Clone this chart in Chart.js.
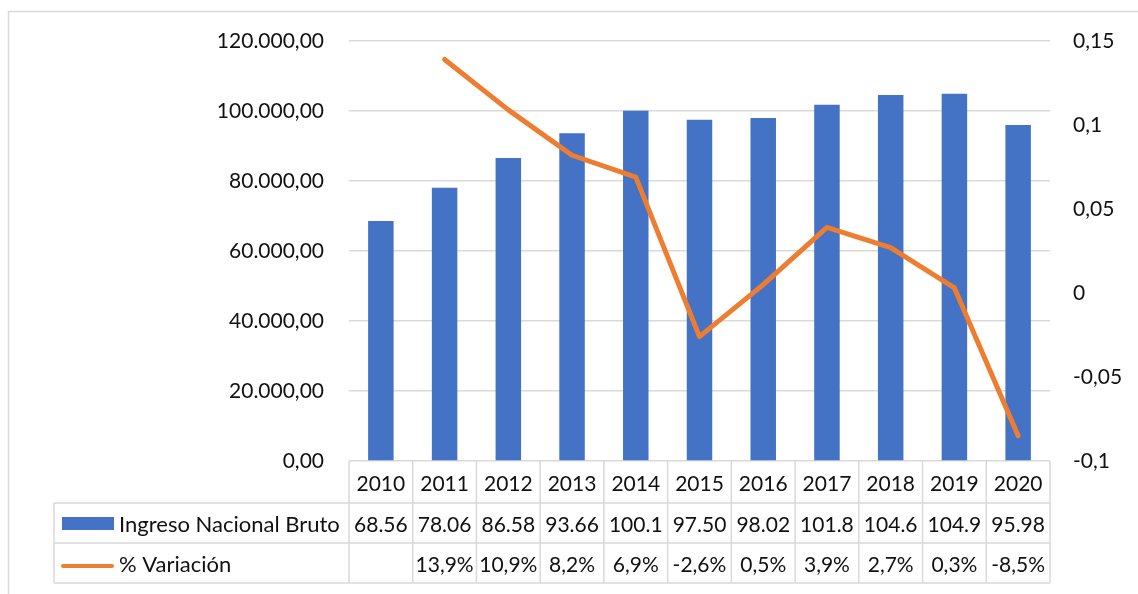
<!DOCTYPE html>
<html>
<head>
<meta charset="utf-8">
<script src="https://cdn.jsdelivr.net/npm/chart.js@4"></script>
<style>
  body { margin: 0; background: #fff; }
  #box { width: 1138px; height: 594px; }
</style>
</head>
<body>
<div id="box"><canvas id="Graf" width="1138" height="594"></canvas></div>
<script>
var anios = ["2010", "2011", "2012", "2013", "2014", "2015", "2016", "2017", "2018", "2019", "2020"];
var ingreso = [68560, 78060, 86580, 93660, 100100, 97500, 98020, 101800, 104600, 104900, 95980];
var variacion = [null, 0.139, 0.109, 0.082, 0.069, -0.026, 0.005, 0.039, 0.027, 0.003, -0.085];

var fuente = "Lato";
var gris = "#d9d9d9";
var texto = "#111";

function miles(v) {
    return String(Math.round(v)).replace(/\B(?=(\d{3})+(?!\d))/g, ".");
}

function pct(v) {
    return (v * 100).toFixed(1).replace(".", ",") + "%";
}

// marco exterior
var marco = {
    id: "marco",
    beforeDraw: function (chart) {
        var ctx = chart.ctx;
        ctx.save();
        ctx.fillStyle = "#fff";
        ctx.fillRect(0, 0, chart.width, chart.height);
        ctx.strokeStyle = gris;
        ctx.lineWidth = 1.5;
        ctx.strokeRect(8.5, 11.5, 1300, 800);
        ctx.restore();
    }
};

// tabla de datos bajo el eje x
var tabla = {
    id: "tabla",
    afterDraw: function (chart) {
        var ctx = chart.ctx;
        var a = chart.chartArea;
        var x = chart.scales.x;
        var n = chart.data.labels.length;
        var paso = (a.right - a.left) / n;
        var r0 = a.bottom, r1 = a.bottom + 42, r2 = r1 + 40, r3 = r2 + 40;
        var izq = 54;

        ctx.save();
        ctx.strokeStyle = gris;
        ctx.lineWidth = 1.5;
        ctx.beginPath();
        for (var i = 0; i <= n; i++) {
            var px = a.left + i * paso;
            ctx.moveTo(px, r0);
            ctx.lineTo(px, r3);
        }
        ctx.moveTo(izq, r1); ctx.lineTo(izq, r3);
        [r1, r2, r3].forEach(function (r) {
            ctx.moveTo(izq, r); ctx.lineTo(a.right, r);
        });
        ctx.stroke();

        var ds = chart.data.datasets;
        // claves de leyenda
        ctx.fillStyle = ds[0].backgroundColor;
        ctx.fillRect(62, r1 + 14, 52, 13);
        ctx.strokeStyle = ds[1].borderColor;
        ctx.lineWidth = 4;
        ctx.lineCap = "round";
        ctx.beginPath();
        ctx.moveTo(63, (r2 + r3) / 2 + 3);
        ctx.lineTo(112, (r2 + r3) / 2 + 3);
        ctx.stroke();

        ctx.fillStyle = texto;
        ctx.textBaseline = "middle";
        ctx.textAlign = "left";
        ctx.font = "22px " + fuente;
        ctx.fillText(ds[0].label, 119, (r1 + r2) / 2 + 2);
        ctx.fillText(ds[1].label, 119, (r2 + r3) / 2 + 2);

        ctx.font = "21px " + fuente;
        ctx.textAlign = "center";
        for (var j = 0; j < n; j++) {
            var cx = x.getPixelForValue(j);
            ctx.fillText(miles(ds[0].data[j]).slice(0, 5), cx, (r1 + r2) / 2 + 2);
            if (ds[1].data[j] !== null) {
                ctx.fillText(pct(ds[1].data[j]), cx, (r2 + r3) / 2 + 2);
            }
        }
        ctx.restore();
    }
};

Chart.defaults.font.family = fuente;
Chart.defaults.font.size = 21;
Chart.defaults.color = texto;

var graf = new Chart("Graf", {
    type: "bar",
    data: {
        labels: anios,
        datasets: [{
            type: "bar",
            label: "Ingreso Nacional Bruto",
            data: ingreso,
            backgroundColor: "#4472c4",
            borderWidth: 0,
            categoryPercentage: 1,
            barPercentage: 0.4,
            yAxisID: "y",
            order: 1
        }, {
            type: "line",
            label: "% Variación",
            data: variacion,
            borderColor: "#ed7d31",
            backgroundColor: "#ed7d31",
            borderWidth: 5,
            borderCapStyle: "round",
            borderJoinStyle: "round",
            pointRadius: 0,
            pointHoverRadius: 0,
            tension: 0,
            fill: false,
            yAxisID: "y1",
            order: 0
        }]
    },
    options: {
        responsive: false,
        animation: false,
        layout: { padding: { top: 41, left: 0, right: 0, bottom: 0 } },
        plugins: {
            legend: { display: false },
            tooltip: { enabled: false }
        },
        scales: {
            x: {
                grid: { display: false },
                border: { display: false },
                ticks: { padding: 3, maxRotation: 0 },
                afterFit: function (s) { s.height = 133; }
            },
            y: {
                position: "left",
                min: 0,
                max: 120000,
                ticks: {
                    stepSize: 20000,
                    padding: 25,
                    callback: function (v) { return miles(v) + ",00"; }
                },
                grid: { color: gris, lineWidth: 1.5, drawTicks: false },
                border: { display: false },
                afterFit: function (s) { s.width = 349; }
            },
            y1: {
                position: "right",
                min: -0.1,
                max: 0.15,
                ticks: {
                    stepSize: 0.05,
                    padding: 23,
                    callback: function (v) { return String(Math.round(v * 100) / 100).replace(".", ","); }
                },
                grid: { drawOnChartArea: false, drawTicks: false },
                border: { display: false },
                afterFit: function (s) { s.width = 88; }
            }
        }
    },
    plugins: [marco, tabla]
});
</script>
</body>
</html>
